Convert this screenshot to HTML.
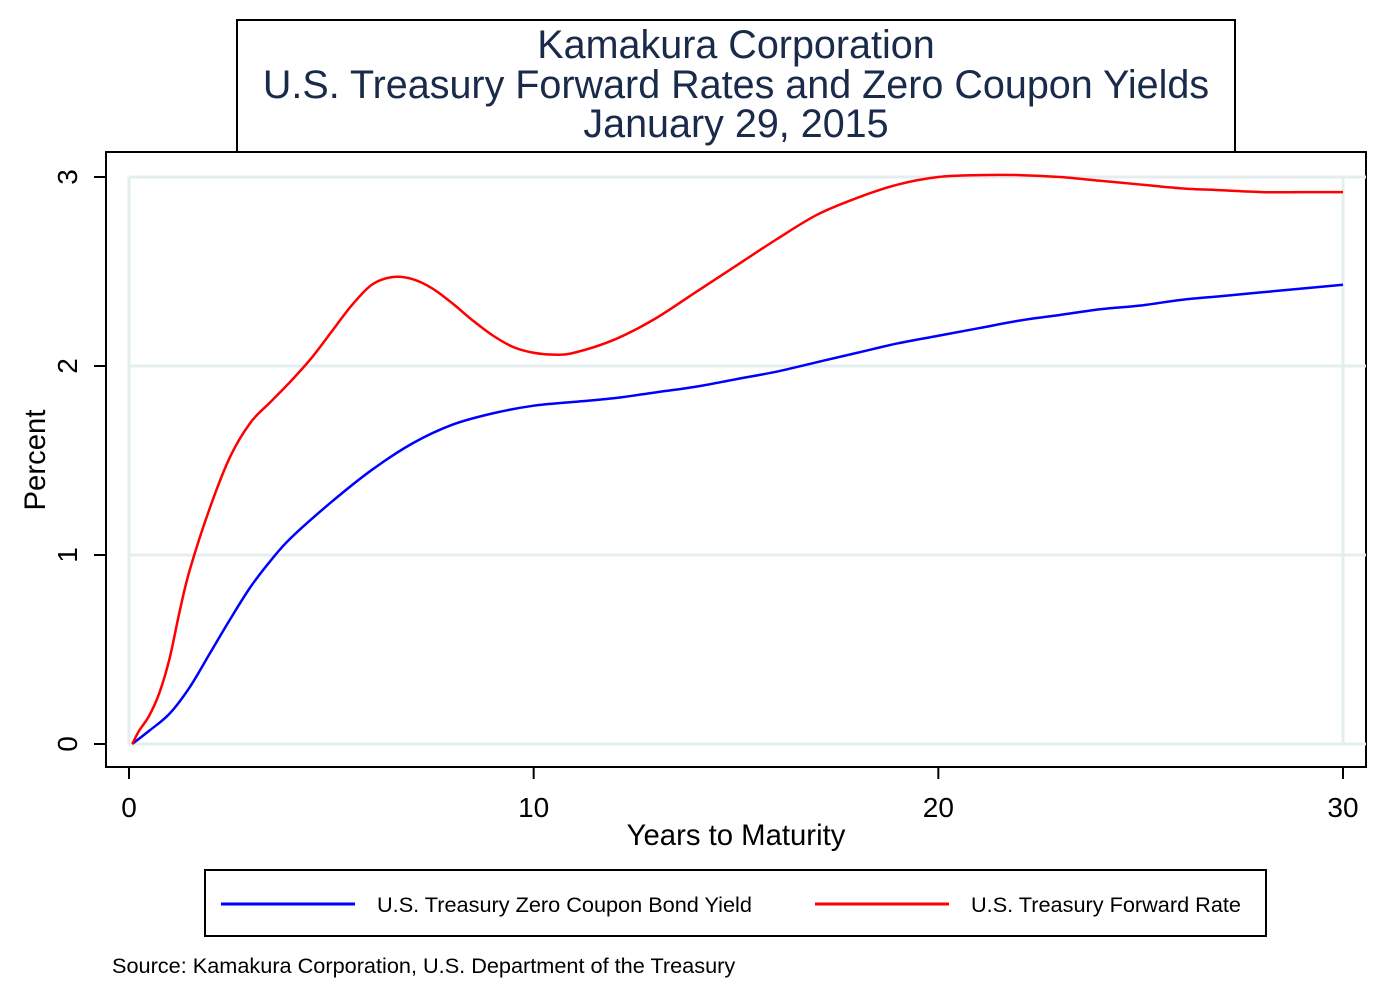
<!DOCTYPE html>
<html><head><meta charset="utf-8"><style>
body{margin:0;background:#fff;}
svg{display:block;font-family:"Liberation Sans",Arial,sans-serif;}
</style></head><body>
<svg id="chart" width="1388" height="1002" viewBox="0 0 1388 1002">
<rect x="0" y="0" width="1388" height="1002" fill="#fff"/>
<g>
<rect x="237" y="20" width="998" height="132" fill="#fff" stroke="#000" stroke-width="2"/>
<text x="736" y="58" text-anchor="middle" font-size="39.5" fill="#1a2a4a">Kamakura Corporation</text>
<text x="736" y="98" text-anchor="middle" font-size="39.5" fill="#1a2a4a">U.S. Treasury Forward Rates and Zero Coupon Yields</text>
<text x="736" y="137" text-anchor="middle" font-size="39.5" fill="#1a2a4a">January 29, 2015</text>
</g>
<rect x="106" y="152" width="1260" height="615" fill="#fff" stroke="#000" stroke-width="2"/>
<g id="grid"></g>
<g id="axes"></g>
<g id="series"></g>
<text x="736" y="845" text-anchor="middle" font-size="29.3" fill="#000">Years to Maturity</text>
<text transform="translate(45,460) rotate(-90)" text-anchor="middle" font-size="29.3" fill="#000">Percent</text>
<g>
<rect x="205" y="870" width="1061" height="66" fill="#fff" stroke="#000" stroke-width="2"/>
<g>
<line x1="221" y1="904" x2="355" y2="904" stroke="#0000ff" stroke-width="3"/>
<text x="377" y="912" font-size="21.7" fill="#000">U.S. Treasury Zero Coupon Bond Yield</text>
</g>
<g>
<line x1="815" y1="904" x2="949" y2="904" stroke="#ff0000" stroke-width="3"/>
<text x="971" y="912" font-size="21.7" fill="#000">U.S. Treasury Forward Rate</text>
</g>
</g>
<text x="112" y="973" font-size="21.7" fill="#000">Source: Kamakura Corporation, U.S. Department of the Treasury</text>
</svg>
<script>
const xTicks = [0, 10, 20, 30];
const yTicks = [0, 1, 2, 3];
const zeroX = [0.08,0.5,1,1.5,2,2.5,3,3.5,4,5,6,7,8,9,10,11,12,13,14,15,16,17,18,19,20,21,22,23,24,25,26,27,28,29,30];
const zeroY = [0,0.07,0.16,0.3,0.48,0.66,0.83,0.97,1.09,1.28,1.45,1.59,1.69,1.75,1.79,1.81,1.83,1.86,1.89,1.93,1.97,2.02,2.07,2.12,2.16,2.2,2.24,2.27,2.3,2.32,2.35,2.37,2.39,2.41,2.43];
const fwdX = [0.08,0.25,0.5,0.75,1,1.25,1.5,2,2.5,3,3.5,4,4.5,5,5.5,6,6.5,7,7.5,8,8.5,9,9.5,10,10.5,11,12,13,14,15,16,17,18,19,20,21,22,23,24,25,26,27,28,29,30];
const fwdY = [0,0.07,0.15,0.27,0.45,0.7,0.92,1.25,1.52,1.7,1.81,1.92,2.04,2.18,2.32,2.43,2.47,2.46,2.41,2.33,2.24,2.16,2.1,2.07,2.06,2.07,2.14,2.25,2.39,2.53,2.67,2.8,2.89,2.96,3.0,3.01,3.01,3.0,2.98,2.96,2.94,2.93,2.92,2.92,2.92];
const NS='http://www.w3.org/2000/svg';
const sx = v => 129 + v*(1343-129)/30;
const sy = v => 744 - v*(744-177)/3;
function mk(tag, attrs, parent){const e=document.createElementNS(NS,tag);for(const k in attrs)e.setAttribute(k,attrs[k]);parent.appendChild(e);return e;}
const grid=document.getElementById('grid'), axes=document.getElementById('axes'), series=document.getElementById('series');
yTicks.forEach(t=>{
  const g=mk('line',{x1:sx(0),x2:1366,y1:sy(t),y2:sy(t),stroke:'#e4eeee','stroke-width':3},grid);
  
  
  const tk=mk('line',{x1:94,x2:106,y1:sy(t),y2:sy(t),stroke:'#000','stroke-width':2},axes);
  
  
  const lb=mk('text',{transform:`translate(77,${sy(t)}) rotate(-90)`,'text-anchor':'middle','font-size':28,fill:'#000'},axes);
  lb.textContent=t;
  
  
});
[0,30].forEach(t=>{
  const g=mk('line',{x1:sx(t),x2:sx(t),y1:sy(3),y2:sy(0),stroke:'#e4eeee','stroke-width':3},grid);
  
  
});
xTicks.forEach(t=>{
  const tk=mk('line',{x1:sx(t),x2:sx(t),y1:767,y2:779,stroke:'#000','stroke-width':2},axes);
  
  
  const lb=mk('text',{x:sx(t),y:817,'text-anchor':'middle','font-size':28,fill:'#000'},axes);
  lb.textContent=t;
  
  
});
function path(xs,ys){
  const p=xs.map((x,i)=>[sx(x),sy(ys[i])]);
  let d='M'+p[0][0]+','+p[0][1];
  for(let i=0;i<p.length-1;i++){
    const p0=p[Math.max(i-1,0)],p1=p[i],p2=p[i+1],p3=p[Math.min(i+2,p.length-1)];
    d+=` C${p1[0]+(p2[0]-p0[0])/6},${p1[1]+(p2[1]-p0[1])/6} ${p2[0]-(p3[0]-p1[0])/6},${p2[1]-(p3[1]-p1[1])/6} ${p2[0]},${p2[1]}`;
  }
  return d;
}
const z=mk('path',{d:path(zeroX,zeroY),fill:'none',stroke:'#0000ff','stroke-width':2.5},series);


const f=mk('path',{d:path(fwdX,fwdY),fill:'none',stroke:'#ff0000','stroke-width':2.5},series);


</script>
</body></html>
